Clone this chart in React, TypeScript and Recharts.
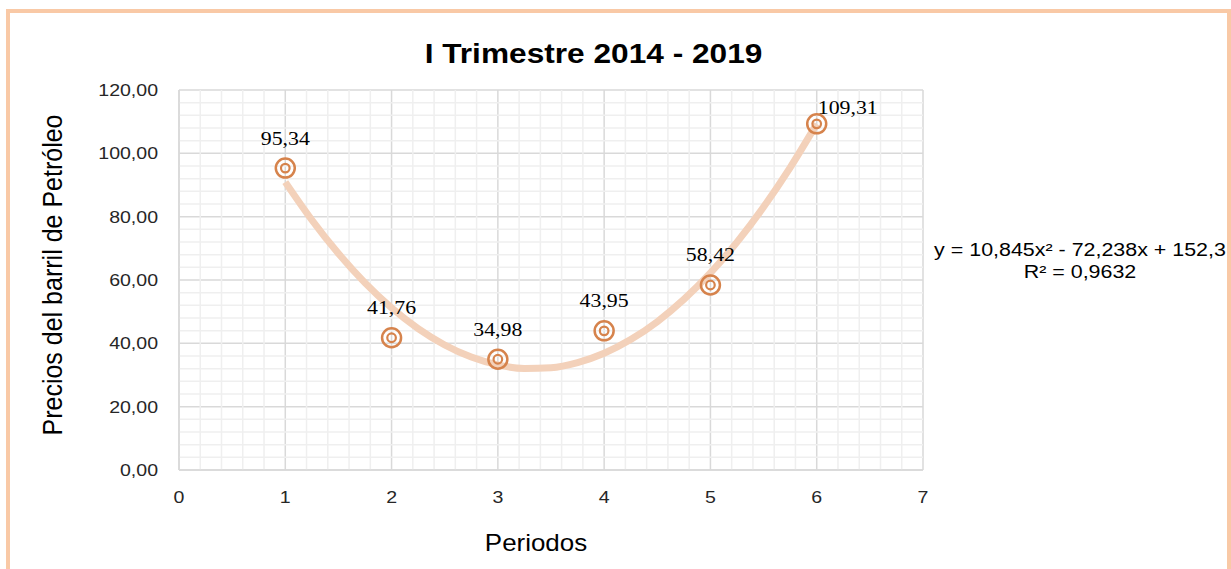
import React from 'react';
import { ComposedChart, XAxis, YAxis, CartesianGrid, Line, Scatter, ReferenceLine } from 'recharts';

const periods = [1, 2, 3, 4, 5, 6];
const prices = [95.34, 41.76, 34.98, 43.95, 58.42, 109.31];
const xTicks = [0, 1, 2, 3, 4, 5, 6, 7];
const yTicks = [0, 20, 40, 60, 80, 100, 120];
const minorXTicks = [0.2, 0.4, 0.6, 0.8, 1.2, 1.4, 1.6, 1.8, 2.2, 2.4, 2.6, 2.8, 3.2, 3.4, 3.6, 3.8, 4.2, 4.4, 4.6, 4.8, 5.2, 5.4, 5.6, 5.8, 6.2, 6.4, 6.6, 6.8];
const minorYTicks = [4, 8, 12, 16, 24, 28, 32, 36, 44, 48, 52, 56, 64, 68, 72, 76, 84, 88, 92, 96, 104, 108, 112, 116];
// Polynomial trendline shown on the chart: y = 10,845x² - 72,238x + 152,3
const trendCoefficients = [152.3, -72.238, 10.845];
const trendXs = [1, 1.25, 1.5, 1.75, 2, 2.25, 2.5, 2.75, 3, 3.25, 3.5, 3.75, 4, 4.25, 4.5, 4.75, 5, 5.25, 5.5, 5.75, 6];

const points = periods.map((x, i) => ({ x, y: prices[i] }));
const trendData = trendXs.map((x) => ({
  x,
  y: trendCoefficients[0] + trendCoefficients[1] * x + trendCoefficients[2] * x * x,
}));

const SANS = '"Liberation Sans", Arial, sans-serif';
const SERIF = '"Liberation Serif", "Times New Roman", serif';
const MARKER = '#d6834c';
const MINOR = '#efefef';

const fmt = (v: number) => v.toFixed(2).replace('.', ',');
const fmtLabel = (v: number) => String(v).replace('.', ',');

const YTick = (props: any) => {
  const { x, y, payload } = props;
  return (
    <text transform={`translate(${x - 21},${y}) scale(1.15,1)`} textAnchor="end" dominantBaseline="central"
      fontFamily={SANS} fontSize={17} fill="#262626">
      {fmt(payload.value)}
    </text>
  );
};

const XTick = (props: any) => {
  const { x, y, payload } = props;
  return (
    <text transform={`translate(${x},${y + 27}) scale(1.15,1)`} textAnchor="middle" dominantBaseline="central"
      fontFamily={SANS} fontSize={17} fill="#262626">
      {payload.value}
    </text>
  );
};

const MarkerShape = (props: any) => {
  const { cx, cy, payload, index } = props;
  const last = index === points.length - 1;
  const lx = last ? cx + 1 : cx;
  const ly = last ? cy - 16 : cy - 30;
  return (
    <g>
      <circle cx={cx} cy={cy} r={9.5} fill="none" stroke={MARKER} strokeWidth={2.5} />
      <circle cx={cx} cy={cy} r={4.3} fill="none" stroke={MARKER} strokeWidth={2.2} />
      <text transform={`translate(${lx},${ly}) scale(1.15,1)`} textAnchor={last ? 'start' : 'middle'}
        dominantBaseline="central" fontFamily={SERIF} fontSize={19} fill="#000">
        {fmtLabel(payload.y)}
      </text>
    </g>
  );
};

export default function App() {
  return (
    <div style={{ position: 'absolute', left: 0, top: 0, width: 1231, height: 569, overflow: 'hidden', background: '#fff' }}>
      <div style={{ position: 'absolute', left: 6, top: 9, width: 1225, height: 700, boxSizing: 'border-box', border: '4px solid #f9c9a6' }} />
      <div style={{ position: 'absolute', left: 0, top: 0 }}>
        <ComposedChart width={1231} height={569} margin={{ top: 90, right: 308, bottom: 69, left: 109 }}>
          {minorXTicks.map((t) => (
            <ReferenceLine key={`vx${t}`} x={t} stroke={MINOR} strokeWidth={1.5} />
          ))}
          {minorYTicks.map((t) => (
            <ReferenceLine key={`hy${t}`} y={t} stroke={MINOR} strokeWidth={1.5} />
          ))}
          <CartesianGrid stroke="#d9d9d9" strokeWidth={1.5} />
          <XAxis type="number" dataKey="x" domain={[0, 7]} ticks={xTicks} interval={0} tickLine={false} tickSize={0} tickMargin={0}
            axisLine={{ stroke: '#d9d9d9', strokeWidth: 1.5 }} height={30} tick={<XTick />} allowDataOverflow />
          <YAxis type="number" dataKey="y" domain={[0, 120]} ticks={yTicks} interval={0} tickLine={false} tickSize={0} tickMargin={0}
            axisLine={{ stroke: '#d9d9d9', strokeWidth: 1.5 }} width={70} tick={<YTick />} allowDataOverflow />
          <Line data={trendData} dataKey="y" type="monotone" stroke="#f3d1ba" strokeWidth={7} dot={false}
            activeDot={false} isAnimationActive={false} />
          <Scatter data={points} dataKey="y" shape={<MarkerShape />} isAnimationActive={false} />
        </ComposedChart>
      </div>
      <div style={{ position: 'absolute', left: 0, width: 1187, top: 40, textAlign: 'center', fontFamily: SANS, fontWeight: 'bold', fontSize: 28, lineHeight: '28px', color: '#000', transform: 'scaleX(1.13)' }}>
        I Trimestre 2014 - 2019
      </div>
      <div style={{ position: 'absolute', left: 53, top: 275, whiteSpace: 'nowrap', fontFamily: SANS, fontSize: 25, lineHeight: '25px', color: '#000', transform: 'translate(-50%,-50%) rotate(-90deg) scaleY(1.08)' }}>
        Precios del barril de Petróleo
      </div>
      <div style={{ position: 'absolute', left: 536, top: 543, whiteSpace: 'nowrap', fontFamily: SANS, fontSize: 24, lineHeight: '24px', color: '#000', transform: 'translate(-50%,-50%) scaleX(1.08)' }}>
        Periodos
      </div>
      <div style={{ position: 'absolute', left: 1080, top: 250, whiteSpace: 'nowrap', fontFamily: SANS, fontSize: 18, lineHeight: '18px', color: '#000', transform: 'translate(-50%,-50%) scaleX(1.19)' }}>
        y = 10,845x² - 72,238x + 152,3
      </div>
      <div style={{ position: 'absolute', left: 1080, top: 272, whiteSpace: 'nowrap', fontFamily: SANS, fontSize: 18, lineHeight: '18px', color: '#000', transform: 'translate(-50%,-50%) scaleX(1.19)' }}>
        R² = 0,9632
      </div>
    </div>
  );
}
